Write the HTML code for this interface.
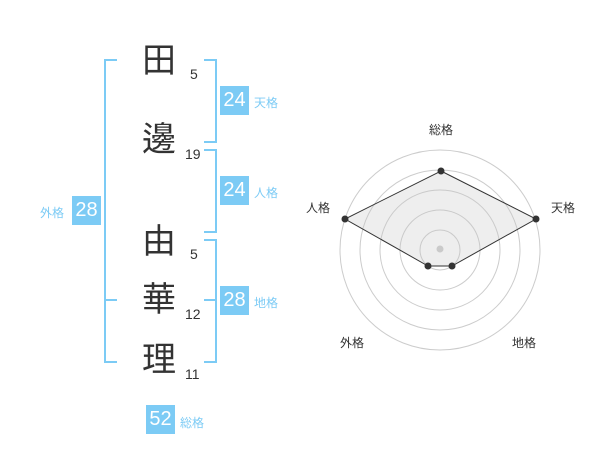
<!DOCTYPE html>
<html><head><meta charset="utf-8"><style>
body{margin:0;width:600px;height:470px;background:#fff;position:relative;overflow:hidden;font-family:"Liberation Sans","Noto Sans CJK JP",sans-serif}
.k{position:absolute;width:40px;text-align:center;font-size:34px;line-height:34px;color:#333;left:139px}
.n{position:absolute;font-size:14px;line-height:14px;color:#333}
.b{position:absolute;width:29px;height:29px;background:#7ccbf5;color:#fff;font-size:20px;line-height:29px;text-align:center}
.l{position:absolute;font-size:12px;line-height:12px;color:#7ccbf5}
.br{position:absolute;border:2px solid #7ccbf5}
</style></head><body>
<div class="k" style="top:44px">田</div>
<div class="k" style="top:123px">邊</div>
<div class="k" style="top:225px">由</div>
<div class="k" style="top:283px">華</div>
<div class="k" style="top:343px">理</div>
<div class="n" style="left:190px;top:67px">5</div>
<div class="n" style="left:185px;top:147px">19</div>
<div class="n" style="left:190px;top:247px">5</div>
<div class="n" style="left:185px;top:307px">12</div>
<div class="n" style="left:185px;top:367px">11</div>
<div class="br" style="left:104px;top:59px;width:11px;height:300px;border-right:none"></div>
<div style="position:absolute;left:104px;top:299px;width:13px;height:2px;background:#7ccbf5"></div>
<div class="br" style="left:204px;top:59px;width:11px;height:80px;border-left:none"></div>
<div class="br" style="left:204px;top:149px;width:11px;height:80px;border-left:none"></div>
<div class="br" style="left:204px;top:239px;width:11px;height:120px;border-left:none"></div>
<div style="position:absolute;left:204px;top:299px;width:13px;height:2px;background:#7ccbf5"></div>
<div class="b" style="left:220px;top:86px">24</div><div class="l" style="left:254px;top:97px">天格</div>
<div class="b" style="left:220px;top:176px">24</div><div class="l" style="left:254px;top:187px">人格</div>
<div class="b" style="left:220px;top:286px">28</div><div class="l" style="left:254px;top:297px">地格</div>
<div class="b" style="left:72px;top:196px">28</div><div class="l" style="left:40px;top:207px">外格</div>
<div class="b" style="left:146px;top:405px">52</div><div class="l" style="left:180px;top:417px">総格</div>
<svg style="position:absolute;left:0;top:0" width="600" height="470">
<g fill="none" stroke="#ccc" stroke-width="1">
<circle cx="440" cy="250" r="20"/><circle cx="440" cy="250" r="40"/><circle cx="440" cy="250" r="60"/><circle cx="440" cy="250" r="80"/><circle cx="440" cy="250" r="100"/></g>
<circle cx="440" cy="249" r="3.5" fill="#ccc"/>
<polygon points="441,171 536,219 452,266 428,266 345,219" fill="rgba(200,200,200,0.3)" stroke="#333" stroke-width="1"/>
<g fill="#333"><circle cx="441" cy="171" r="3.5"/><circle cx="536" cy="219" r="3.5"/><circle cx="452" cy="266" r="3.5"/><circle cx="428" cy="266" r="3.5"/><circle cx="345" cy="219" r="3.5"/></g>
<g font-size="12" fill="#333" font-family="Liberation Sans,Noto Sans CJK JP,sans-serif" text-anchor="middle">
<text x="441" y="134">総格</text><text x="563" y="212">天格</text><text x="318" y="212">人格</text><text x="352" y="347">外格</text><text x="524" y="347">地格</text></g>
</svg>
</body></html>
